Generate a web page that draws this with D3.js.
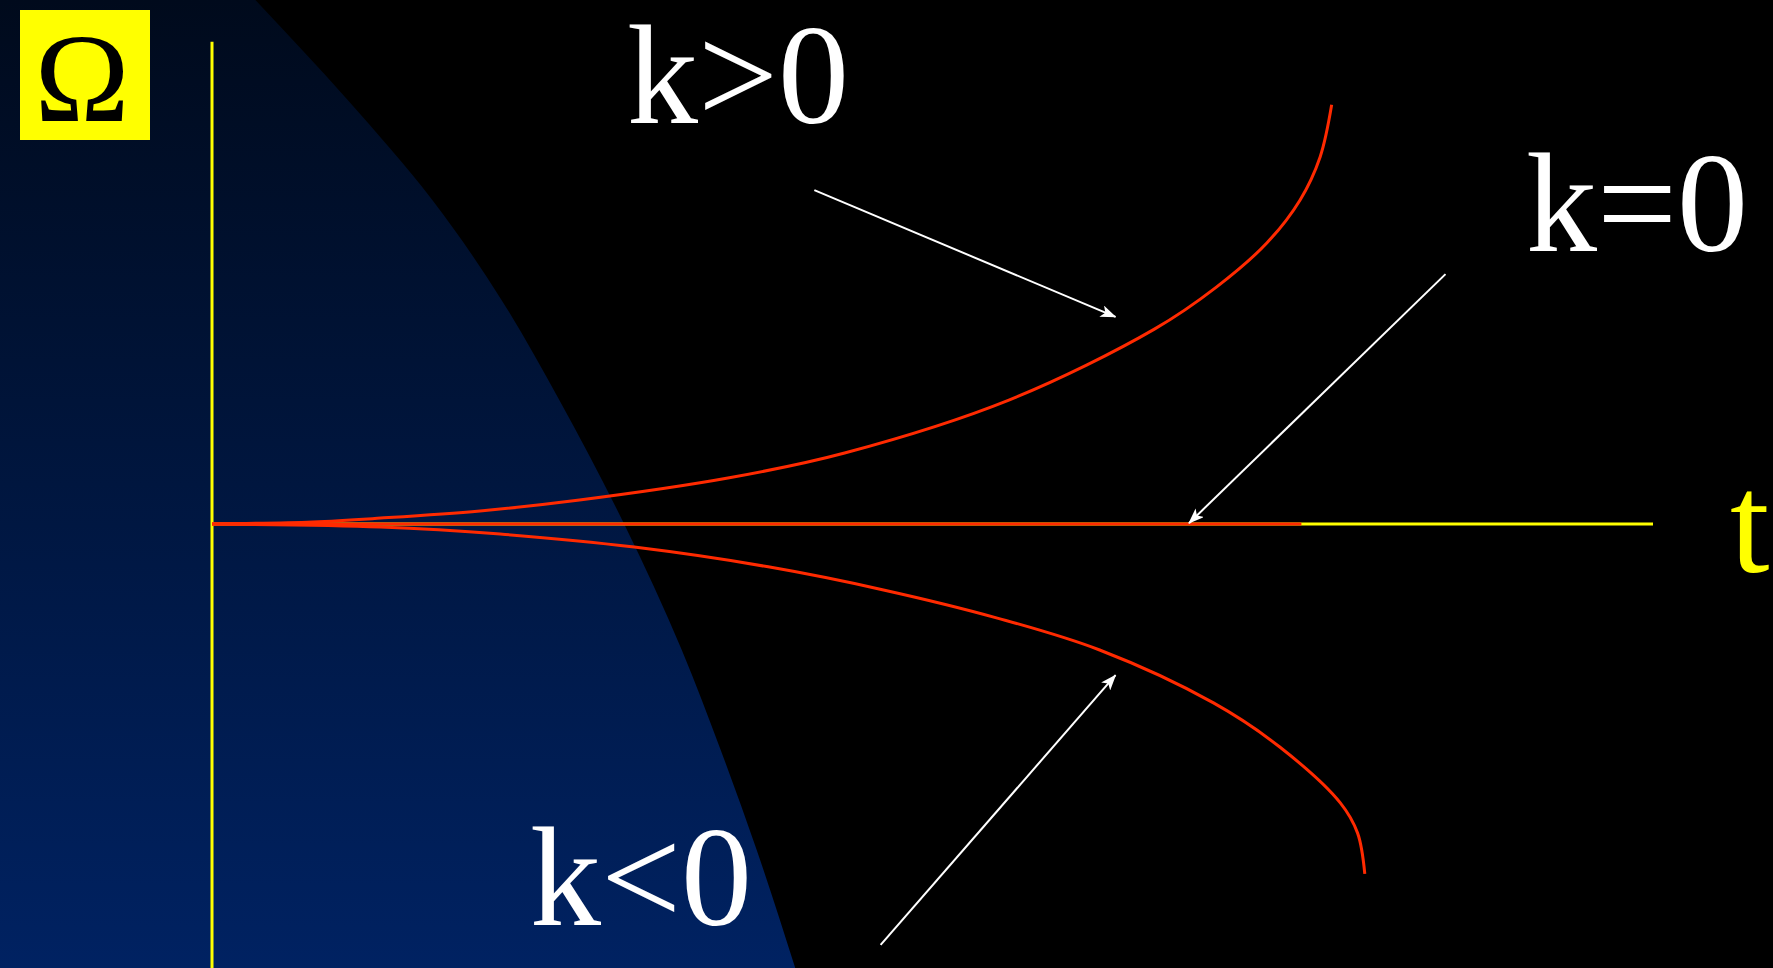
<!DOCTYPE html>
<html>
<head>
<meta charset="utf-8">
<script src="https://cdn.jsdelivr.net/npm/d3@7"></script>
<style>
  html, body { margin: 0; padding: 0; background: #000; }
  svg { display: block; }
</style>
</head>
<body>
<div id="chart"></div>
<script>
// data, in (t, Omega) units; Omega = 1 sits on the t axis
var kPositive = [
  [0, 1], [0.70, 1.005], [1.17, 1.014], [1.86, 1.031], [2.55, 1.057],
  [3.59, 1.110], [4.39, 1.169], [5.53, 1.295], [6.54, 1.464], [6.97, 1.564],
  [7.32, 1.669], [7.55, 1.771], [7.69, 1.874], [7.77, 1.998]
];
var kNegative = [
  [0, 1], [1.17, 0.993], [2.00, 0.976], [2.93, 0.945], [3.86, 0.898],
  [4.66, 0.843], [5.45, 0.776], [6.16, 0.700], [6.95, 0.574],
  [7.41, 0.469], [7.83, 0.336], [7.95, 0.264], [8.00, 0.167]
];
var kZero = [[0, 1], [7.56, 1]];

var tAxis = [[0, 1], [10, 1]];
var omegaAxis = [[0, 2.148], [0, -0.06]];

// arrows: from label towards curve
var arrows = [
  {name: 'k>0', from: [4.18, 1.795], to: [6.27, 1.493]},
  {name: 'k=0', from: [8.56, 1.595], to: [6.78, 1.002]},
  {name: 'k<0', from: [4.64, -0.002], to: [6.27, 0.640]}
];

// edge of the blue backdrop on the left
var backdropEdge = [
  [0.30, 2.248], [0.94, 2.010], [1.53, 1.771], [2.01, 1.533], [2.41, 1.295],
  [2.86, 1.000], [3.26, 0.700], [3.53, 0.462], [3.78, 0.224], [4.05, -0.06]
];

var labels = [
  {text: 'k>0', x: 627, y: 123},
  {text: 'k=0', x: 1526, y: 251},
  {text: 'k<0', x: 530, y: 925}
];

var width = 1773, height = 968;

// pick a Times-like face if there is one
var pickFont = function(list) {
  var ctx = document.createElement('canvas').getContext('2d');
  var probe = 'kk>=<0\u03A9tmwil';
  ctx.font = '72px monospace';
  var base = ctx.measureText(probe).width;
  for (var i = 0; i < list.length; i++) {
    ctx.font = '72px "' + list[i] + '", monospace';
    if (ctx.measureText(probe).width !== base) return '"' + list[i] + '", serif';
  }
  return 'serif';
};
var fontFamily = pickFont(['Liberation Serif', 'Times New Roman', 'Tinos', 'Nimbus Roman', 'FreeSerif', 'DejaVu Serif']);

var x = d3.scaleLinear().domain([0, 10]).range([212, 1653]);
var y = d3.scaleLinear().domain([0, 2]).range([944, 104]);

var svg = d3.select('#chart').append('svg')
  .attr('width', width)
  .attr('height', height);

var defs = svg.append('defs');

var grad = defs.append('linearGradient')
  .attr('id', 'bgGrad')
  .attr('gradientUnits', 'userSpaceOnUse')
  .attr('x1', 0).attr('y1', 0)
  .attr('x2', 0).attr('y2', height);
grad.append('stop').attr('offset', 0).attr('stop-color', '#000a1c');
grad.append('stop').attr('offset', 1).attr('stop-color', '#002262');

defs.append('marker')
  .attr('id', 'head')
  .attr('markerUnits', 'userSpaceOnUse')
  .attr('viewBox', '0 0 16 12')
  .attr('refX', 15).attr('refY', 6)
  .attr('markerWidth', 16).attr('markerHeight', 12)
  .attr('orient', 'auto')
  .append('path')
    .attr('d', 'M0,0 L16,6 L0,12 L4,6 Z')
    .attr('fill', '#fff');

svg.append('rect')
  .attr('width', width).attr('height', height)
  .attr('fill', '#000');

// backdrop shape: left side up to the curved edge
var edgePts = backdropEdge.map(function(d) { return [x(d[0]), y(d[1])]; });
var edgeD = d3.line().curve(d3.curveMonotoneY)(edgePts);
var last = edgePts[edgePts.length - 1];
svg.append('path')
  .attr('d', 'M0,0 L' + edgeD.slice(1) + ' L' + last[0] + ',' + height + ' L0,' + height + ' Z')
  .attr('fill', 'url(#bgGrad)');

var line = d3.line()
  .x(function(d) { return x(d[0]); })
  .y(function(d) { return y(d[1]); });

var curveLine = d3.line()
  .x(function(d) { return x(d[0]); })
  .y(function(d) { return y(d[1]); })
  .curve(d3.curveCatmullRom.alpha(0.5));

// axes
[omegaAxis, tAxis].forEach(function(a) {
  svg.append('path').datum(a)
    .attr('d', line)
    .attr('stroke', '#ffff00')
    .attr('stroke-width', 3)
    .attr('fill', 'none');
});

// curves
[kPositive, kNegative, kZero].forEach(function(series) {
  svg.append('path').datum(series)
    .attr('d', curveLine)
    .attr('stroke', '#ff2a00')
    .attr('stroke-width', 3)
    .attr('fill', 'none');
});

// arrows
svg.selectAll('line.arrow').data(arrows).enter().append('line')
  .attr('class', 'arrow')
  .attr('x1', function(d) { return x(d.from[0]); })
  .attr('y1', function(d) { return y(d.from[1]); })
  .attr('x2', function(d) { return x(d.to[0]); })
  .attr('y2', function(d) { return y(d.to[1]); })
  .attr('stroke', '#fff')
  .attr('stroke-width', 2)
  .attr('marker-end', 'url(#head)');

// labels
svg.selectAll('text.k').data(labels).enter().append('text')
  .attr('class', 'k')
  .attr('x', function(d) { return d.x; })
  .attr('y', function(d) { return d.y; })
  .style('font-family', fontFamily)
  .style('font-size', '142px')
  .attr('fill', '#fff')
  .text(function(d) { return d.text; });

svg.append('text')
  .attr('x', 1730).attr('y', 572)
  .style('font-family', fontFamily)
  .style('font-size', '142px')
  .attr('fill', '#ffff00')
  .text('t');

// Omega badge
svg.append('rect')
  .attr('x', 20).attr('y', 10)
  .attr('width', 130).attr('height', 130)
  .attr('fill', '#ffff00');

svg.append('text')
  .attr('x', 82).attr('y', 121)
  .attr('text-anchor', 'middle')
  .style('font-family', fontFamily)
  .style('font-size', '128px')
  .attr('fill', '#000')
  .text('\u03A9');
</script>
</body>
</html>
